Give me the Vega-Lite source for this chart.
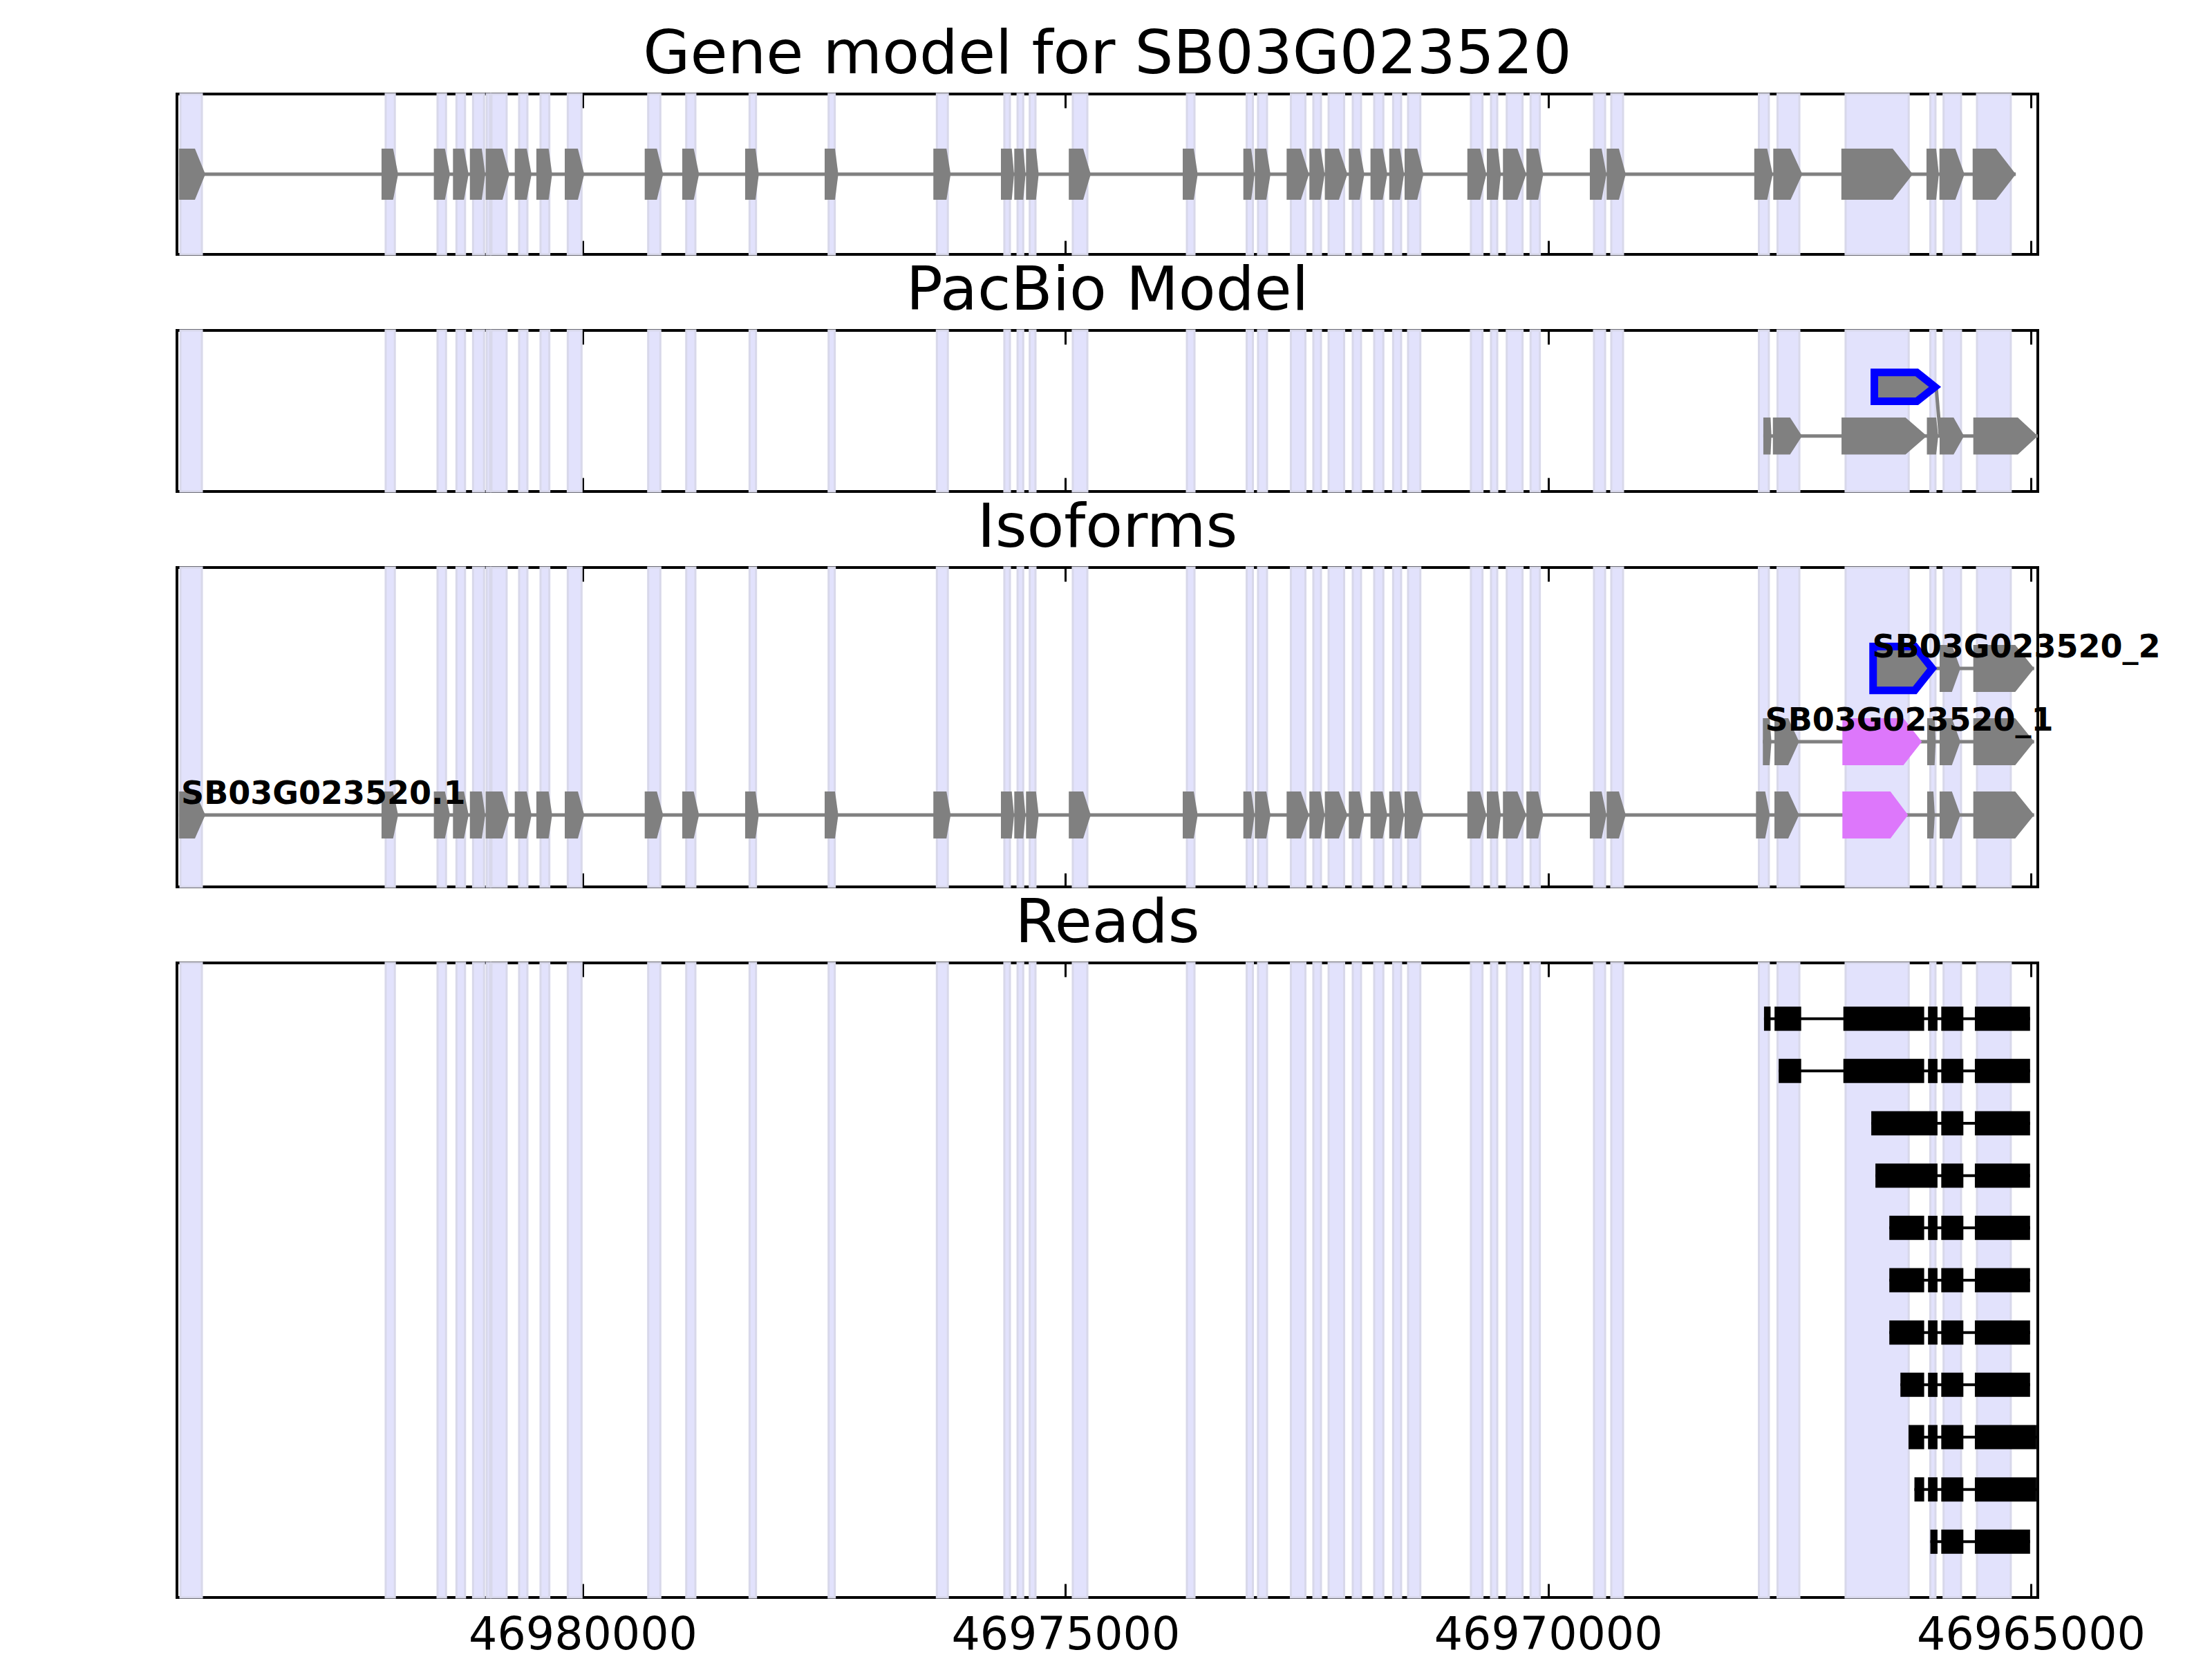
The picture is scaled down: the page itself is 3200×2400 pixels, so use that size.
{
"$schema": "https://vega.github.io/schema/vega-lite/v6.json",
"background": "white",
"padding": {"left": 254, "top": 33, "right": 0, "bottom": 0},
"spacing": 110,
"bounds": "flush",
"config": {
  "font": "DejaVu Sans",
  "view": {"stroke": "black", "strokeWidth": 4},
  "title": {"fontSize": 88, "fontWeight": "normal", "color": "black", "baseline": "alphabetic", "offset": 11, "frame": "group", "anchor": "middle"},
  "axis": {"domain": false, "grid": false, "tickSize": -20, "tickWidth": 3, "tickColor": "black", "labels": false, "title": null, "zindex": 1}
},
"datasets": {
  "shape": [
    {"k":"s","a0":-0.32,"b0":0.32,"a1":0.68,"b1":1.32,"a2":1.68,"b2":2.32,"c2":1.7,"d2":2.3,"p0":-0.376,"q0":0.376,"p1":0.706,"q1":1.294},
    {"k":"t","a0":-0.32,"b0":0.32,"a1":0.68,"b1":1.32,"a2":1.68,"b2":2.32,"c2":1.7,"d2":2.3,"p0":-0.376,"q0":0.376,"p1":0.706,"q1":1.294},
    {"k":"e","a0":0,"b0":0,"a1":1,"b1":1,"a2":2,"b2":2,"c2":2,"d2":2,"p0":0,"q0":0,"p1":1,"q1":1}
  ],
  "ex": [
    {"tr":"gm","n":1,"s":46984182,"t":46984017,"e":46983909,"f":"exon"},
    {"tr":"gm","n":2,"s":46982084,"t":46981964,"e":46981912,"f":"exon"},
    {"tr":"gm","n":3,"s":46981542,"t":46981427,"e":46981375,"f":"exon"},
    {"tr":"gm","n":4,"s":46981344,"t":46981230,"e":46981182,"f":"exon"},
    {"tr":"gm","n":5,"s":46981169,"t":46981045,"e":46981010,"f":"exon"},
    {"tr":"gm","n":6,"s":46981005,"t":46980831,"e":46980759,"f":"exon"},
    {"tr":"gm","n":7,"s":46980704,"t":46980580,"e":46980530,"f":"exon"},
    {"tr":"gm","n":8,"s":46980480,"t":46980353,"e":46980317,"f":"exon"},
    {"tr":"gm","n":9,"s":46980186,"t":46980050,"e":46979984,"f":"exon"},
    {"tr":"gm","n":10,"s":46979358,"t":46979232,"e":46979167,"f":"exon"},
    {"tr":"gm","n":11,"s":46978969,"t":46978850,"e":46978795,"f":"exon"},
    {"tr":"gm","n":12,"s":46978318,"t":46978210,"e":46978176,"f":"exon"},
    {"tr":"gm","n":13,"s":46977494,"t":46977387,"e":46977353,"f":"exon"},
    {"tr":"gm","n":14,"s":46976368,"t":46976232,"e":46976189,"f":"exon"},
    {"tr":"gm","n":15,"s":46975668,"t":46975556,"e":46975532,"f":"exon"},
    {"tr":"gm","n":16,"s":46975530,"t":46975437,"e":46975413,"f":"exon"},
    {"tr":"gm","n":17,"s":46975408,"t":46975305,"e":46975277,"f":"exon"},
    {"tr":"gm","n":18,"s":46974965,"t":46974816,"e":46974738,"f":"exon"},
    {"tr":"gm","n":19,"s":46973785,"t":46973671,"e":46973630,"f":"exon"},
    {"tr":"gm","n":20,"s":46973157,"t":46973076,"e":46973041,"f":"exon"},
    {"tr":"gm","n":21,"s":46973038,"t":46972919,"e":46972876,"f":"exon"},
    {"tr":"gm","n":22,"s":46972709,"t":46972561,"e":46972477,"f":"exon"},
    {"tr":"gm","n":23,"s":46972473,"t":46972358,"e":46972315,"f":"exon"},
    {"tr":"gm","n":24,"s":46972313,"t":46972167,"e":46972079,"f":"exon"},
    {"tr":"gm","n":25,"s":46972065,"t":46971952,"e":46971904,"f":"exon"},
    {"tr":"gm","n":26,"s":46971840,"t":46971714,"e":46971666,"f":"exon"},
    {"tr":"gm","n":27,"s":46971646,"t":46971535,"e":46971492,"f":"exon"},
    {"tr":"gm","n":28,"s":46971487,"t":46971356,"e":46971291,"f":"exon"},
    {"tr":"gm","n":29,"s":46970837,"t":46970704,"e":46970640,"f":"exon"},
    {"tr":"gm","n":30,"s":46970635,"t":46970520,"e":46970490,"f":"exon"},
    {"tr":"gm","n":31,"s":46970468,"t":46970318,"e":46970227,"f":"exon"},
    {"tr":"gm","n":32,"s":46970225,"t":46970103,"e":46970050,"f":"exon"},
    {"tr":"gm","n":33,"s":46969568,"t":46969446,"e":46969396,"f":"exon"},
    {"tr":"gm","n":34,"s":46969394,"t":46969267,"e":46969196,"f":"exon"},
    {"tr":"gm","n":35,"s":46967865,"t":46967731,"e":46967674,"f":"exon"},
    {"tr":"gm","n":36,"s":46967668,"t":46967489,"e":46967367,"f":"exon"},
    {"tr":"gm","n":37,"s":46966963,"t":46966431,"e":46966223,"f":"exon"},
    {"tr":"gm","n":38,"s":46966081,"t":46965981,"e":46965953,"f":"exon"},
    {"tr":"gm","n":39,"s":46965947,"t":46965782,"e":46965688,"f":"exon"},
    {"tr":"gm","n":40,"s":46965603,"t":46965361,"e":46965156,"f":"exon"},
    {"tr":"iso1","n":35,"s":46967847,"t":46967752,"e":46967704,"f":"exon"},
    {"tr":"iso1","n":36,"s":46967656,"t":46967513,"e":46967401,"f":"exon"},
    {"tr":"iso1","n":37,"s":46966952,"t":46966455,"e":46966272,"f":"alt"},
    {"tr":"iso1","n":38,"s":46966074,"t":46966009,"e":46965995,"f":"exon"},
    {"tr":"iso1","n":39,"s":46965945,"t":46965818,"e":46965730,"f":"exon"},
    {"tr":"iso1","n":40,"s":46965596,"t":46965162,"e":46964966,"f":"exon"},
    {"tr":"i_1","n":1,"s":46967776,"t":46967706,"e":46967687,"f":"exon"},
    {"tr":"i_1","n":2,"s":46967656,"t":46967513,"e":46967401,"f":"exon"},
    {"tr":"i_1","n":3,"s":46966952,"t":46966320,"e":46966129,"f":"alt"},
    {"tr":"i_1","n":4,"s":46966074,"t":46965997,"e":46965986,"f":"exon"},
    {"tr":"i_1","n":5,"s":46965945,"t":46965818,"e":46965730,"f":"exon"},
    {"tr":"i_1","n":6,"s":46965596,"t":46965162,"e":46964966,"f":"exon"},
    {"tr":"i_2","n":1,"s":46966634,"t":46966203,"e":46966022,"f":"novel"},
    {"tr":"i_2","n":2,"s":46965945,"t":46965818,"e":46965730,"f":"exon"},
    {"tr":"i_2","n":3,"s":46965596,"t":46965162,"e":46964966,"f":"exon"},
    {"tr":"pb","n":1,"s":46967771,"t":46967696,"e":46967687,"f":"exon"},
    {"tr":"pb","n":2,"s":46967672,"t":46967494,"e":46967370,"f":"exon"},
    {"tr":"pb","n":3,"s":46966961,"t":46966298,"e":46966077,"f":"exon"},
    {"tr":"pb","n":4,"s":46966077,"t":46965981,"e":46965959,"f":"exon"},
    {"tr":"pb","n":5,"s":46965945,"t":46965800,"e":46965692,"f":"exon"},
    {"tr":"pb","n":6,"s":46965596,"t":46965135,"e":46964928,"f":"exon"},
    {"tr":"pbn","n":1,"s":46966621,"t":46966181,"e":46965993,"f":"novel"}
  ],
  "introns": [
    {"tr":"gm","a":46984182,"b":46965156,"y":0},
    {"tr":"iso1","a":46984182,"b":46964966,"y":0},
    {"tr":"i_1","a":46967776,"b":46964966,"y":1},
    {"tr":"i_2","a":46966022,"b":46964966,"y":2},
    {"tr":"pb","a":46967771,"b":46964928,"y":0}
  ],
  "links": [
    {"a":46965981,"b":46965938,"y":1,"y2":0}
  ],
  "labels": [
    {"lab":"SB03G023520.1","x":46984160,"y":0},
    {"lab":"SB03G023520_1","x":46967752,"y":1},
    {"lab":"SB03G023520_2","x":46966642,"y":2}
  ],
  "bands": [
    {"s":46984167,"e":46983945},{"s":46982041,"e":46981946},{"s":46981504,"e":46981416},
    {"s":46981308,"e":46981219},{"s":46981136,"e":46981022},{"s":46980995,"e":46980960},
    {"s":46980945,"e":46980788},{"s":46980659,"e":46980573},{"s":46980437,"e":46980346},
    {"s":46980155,"e":46980012},{"s":46979322,"e":46979196},{"s":46978928,"e":46978833},
    {"s":46978272,"e":46978205},{"s":46977453,"e":46977389},{"s":46976332,"e":46976218},
    {"s":46975633,"e":46975575},{"s":46975496,"e":46975437},{"s":46975370,"e":46975310},
    {"s":46974924,"e":46974773},{"s":46973742,"e":46973663},{"s":46973123,"e":46973058},
    {"s":46973005,"e":46972912},{"s":46972665,"e":46972514},{"s":46972432,"e":46972353},
    {"s":46972274,"e":46972113},{"s":46972024,"e":46971938},{"s":46971802,"e":46971707},
    {"s":46971606,"e":46971523},{"s":46971451,"e":46971324},{"s":46970800,"e":46970680},
    {"s":46970592,"e":46970527},{"s":46970429,"e":46970265},{"s":46970182,"e":46970086},
    {"s":46969525,"e":46969410},{"s":46969346,"e":46969224},{"s":46967817,"e":46967714},
    {"s":46967624,"e":46967398},{"s":46966919,"e":46966265},{"s":46966042,"e":46965988},
    {"s":46965904,"e":46965723},{"s":46965558,"e":46965208}
  ],
  "reads": [
    {"r":1,"s":46967764,"e":46967696},{"r":1,"s":46967655,"e":46967379},{"r":1,"s":46966942,"e":46966105},{"r":1,"s":46966065,"e":46965967},{"r":1,"s":46965928,"e":46965699},{"r":1,"s":46965580,"e":46965008},
    {"r":2,"s":46967612,"e":46967379},{"r":2,"s":46966942,"e":46966105},{"r":2,"s":46966065,"e":46965967},{"r":2,"s":46965928,"e":46965699},{"r":2,"s":46965580,"e":46965008},
    {"r":3,"s":46966653,"e":46965967},{"r":3,"s":46965928,"e":46965699},{"r":3,"s":46965580,"e":46965008},
    {"r":4,"s":46966610,"e":46965967},{"r":4,"s":46965928,"e":46965699},{"r":4,"s":46965580,"e":46965008},
    {"r":5,"s":46966466,"e":46966105},{"r":5,"s":46966065,"e":46965967},{"r":5,"s":46965928,"e":46965699},{"r":5,"s":46965580,"e":46965008},
    {"r":6,"s":46966466,"e":46966105},{"r":6,"s":46966065,"e":46965967},{"r":6,"s":46965928,"e":46965699},{"r":6,"s":46965580,"e":46965008},
    {"r":7,"s":46966466,"e":46966105},{"r":7,"s":46966065,"e":46965967},{"r":7,"s":46965928,"e":46965699},{"r":7,"s":46965580,"e":46965008},
    {"r":8,"s":46966351,"e":46966105},{"r":8,"s":46966065,"e":46965967},{"r":8,"s":46965928,"e":46965699},{"r":8,"s":46965580,"e":46965008},
    {"r":9,"s":46966267,"e":46966105},{"r":9,"s":46966065,"e":46965967},{"r":9,"s":46965928,"e":46965699},{"r":9,"s":46965580,"e":46964943},
    {"r":10,"s":46966206,"e":46966105},{"r":10,"s":46966065,"e":46965967},{"r":10,"s":46965928,"e":46965699},{"r":10,"s":46965580,"e":46964943},
    {"r":11,"s":46966041,"e":46965967},{"r":11,"s":46965928,"e":46965699},{"r":11,"s":46965580,"e":46965008}
  ]
},
"vconcat": [
  {
    "title": "Gene model for SB03G023520",
    "width": 2692, "height": 232,
    "resolve": {"axis": {"x": "independent"}},
    "layer": [
      {"data": {"name": "bands"}, "mark": {"type": "rect", "fill": "#e2e2fc", "stroke": "#d8d8ea", "strokeWidth": 3},
       "encoding": {"x": {"field": "s", "type": "quantitative", "scale": {"domain": [46964928, 46984203], "reverse": true, "zero": false, "nice": false}, "axis": {"orient": "bottom", "values": [46965000, 46970000, 46975000, 46980000]}}, "x2": {"field": "e"}}},
      {"data": {"name": "introns"}, "transform": [{"filter": "datum.tr == 'gm'"}], "mark": {"type": "rule", "color": "#808080", "strokeWidth": 5},
       "encoding": {"x": {"field": "a", "type": "quantitative", "scale": {"domain": [46964928, 46984203], "reverse": true, "zero": false, "nice": false}, "axis": {"orient": "top", "values": [46965000, 46970000, 46975000, 46980000]}}, "x2": {"field": "b"}, "y": {"field": "y", "type": "quantitative", "scale": {"domain": [-1, 1]}, "axis": null}}},
      {"data": {"name": "ex"}, "transform": [{"filter": "datum.tr == 'gm'"}, {"fold": ["s", "t", "e"], "as": ["k", "x"]}, {"lookup": "k", "from": {"data": {"name": "shape"}, "key": "k", "fields": ["a0", "b0"]}}],
       "mark": {"type": "area", "color": "#808080"},
       "encoding": {"x": {"field": "x", "type": "quantitative", "scale": {"domain": [46964928, 46984203], "reverse": true, "zero": false, "nice": false}, "axis": null}, "y": {"field": "a0", "type": "quantitative", "scale": {"domain": [-1, 1]}, "axis": null}, "y2": {"field": "b0"}, "detail": {"field": "n", "type": "nominal"}}}
    ]
  },
  {
    "title": "PacBio Model",
    "width": 2692, "height": 233,
    "resolve": {"axis": {"x": "independent"}},
    "layer": [
      {"data": {"name": "bands"}, "mark": {"type": "rect", "fill": "#e2e2fc", "stroke": "#d8d8ea", "strokeWidth": 3},
       "encoding": {"x": {"field": "s", "type": "quantitative", "scale": {"domain": [46964928, 46984203], "reverse": true, "zero": false, "nice": false}, "axis": {"orient": "bottom", "values": [46965000, 46970000, 46975000, 46980000]}}, "x2": {"field": "e"}}},
      {"data": {"name": "introns"}, "transform": [{"filter": "datum.tr == 'pb'"}], "mark": {"type": "rule", "color": "#808080", "strokeWidth": 5},
       "encoding": {"x": {"field": "a", "type": "quantitative", "scale": {"domain": [46964928, 46984203], "reverse": true, "zero": false, "nice": false}, "axis": {"orient": "top", "values": [46965000, 46970000, 46975000, 46980000]}}, "x2": {"field": "b"}, "y": {"field": "y", "type": "quantitative", "scale": {"domain": [-1.131, 2.151]}, "axis": null}}},
      {"data": {"name": "links"}, "mark": {"type": "rule", "color": "#808080", "strokeWidth": 5},
       "encoding": {"x": {"field": "a", "type": "quantitative", "scale": {"domain": [46964928, 46984203], "reverse": true, "zero": false, "nice": false}, "axis": null}, "x2": {"field": "b"}, "y": {"field": "y", "type": "quantitative", "scale": {"domain": [-1.131, 2.151]}, "axis": null}, "y2": {"field": "y2"}}},
      {"data": {"name": "ex"}, "transform": [{"filter": "datum.tr == 'pb'"}, {"fold": ["s", "t", "e"], "as": ["k", "x"]}, {"lookup": "k", "from": {"data": {"name": "shape"}, "key": "k", "fields": ["p0", "q0"]}}],
       "mark": {"type": "area", "color": "#808080"},
       "encoding": {"x": {"field": "x", "type": "quantitative", "scale": {"domain": [46964928, 46984203], "reverse": true, "zero": false, "nice": false}, "axis": null}, "y": {"field": "p0", "type": "quantitative", "scale": {"domain": [-1.131, 2.151]}, "axis": null}, "y2": {"field": "q0"}, "detail": {"field": "n", "type": "nominal"}}},
      {"data": {"name": "ex"}, "transform": [{"filter": "datum.tr == 'pbn'"}, {"fold": ["s", "t", "e"], "as": ["k", "x"]}, {"lookup": "k", "from": {"data": {"name": "shape"}, "key": "k", "fields": ["p1", "q1"]}}],
       "mark": {"type": "area", "fill": "#808080", "stroke": "#0000ff", "strokeWidth": 11, "strokeJoin": "miter"},
       "encoding": {"x": {"field": "x", "type": "quantitative", "scale": {"domain": [46964928, 46984203], "reverse": true, "zero": false, "nice": false}, "axis": null}, "y": {"field": "p1", "type": "quantitative", "scale": {"domain": [-1.131, 2.151]}, "axis": null}, "y2": {"field": "q1"}, "detail": {"field": "n", "type": "nominal"}}}
    ]
  },
  {
    "title": "Isoforms",
    "width": 2692, "height": 462,
    "resolve": {"axis": {"x": "independent"}},
    "layer": [
      {"data": {"name": "bands"}, "mark": {"type": "rect", "fill": "#e2e2fc", "stroke": "#d8d8ea", "strokeWidth": 3},
       "encoding": {"x": {"field": "s", "type": "quantitative", "scale": {"domain": [46964928, 46984203], "reverse": true, "zero": false, "nice": false}, "axis": {"orient": "bottom", "values": [46965000, 46970000, 46975000, 46980000]}}, "x2": {"field": "e"}}},
      {"data": {"name": "introns"}, "transform": [{"filter": "datum.tr == 'iso1' || datum.tr == 'i_1' || datum.tr == 'i_2'"}], "mark": {"type": "rule", "color": "#808080", "strokeWidth": 5},
       "encoding": {"x": {"field": "a", "type": "quantitative", "scale": {"domain": [46964928, 46984203], "reverse": true, "zero": false, "nice": false}, "axis": {"orient": "top", "values": [46965000, 46970000, 46975000, 46980000]}}, "x2": {"field": "b"}, "y": {"field": "y", "type": "quantitative", "scale": {"domain": [-0.981, 3.377]}, "axis": null}}},
      {"data": {"name": "ex"}, "transform": [{"filter": "(datum.tr == 'gm' && datum.n <= 34) || datum.tr == 'iso1'"}, {"fold": ["s", "t", "e"], "as": ["k", "x"]}, {"lookup": "k", "from": {"data": {"name": "shape"}, "key": "k", "fields": ["a0", "b0"]}}],
       "mark": {"type": "area"},
       "encoding": {"x": {"field": "x", "type": "quantitative", "scale": {"domain": [46964928, 46984203], "reverse": true, "zero": false, "nice": false}, "axis": null}, "y": {"field": "a0", "type": "quantitative", "scale": {"domain": [-0.981, 3.377]}, "axis": null}, "y2": {"field": "b0"}, "detail": {"field": "n", "type": "nominal"},
         "color": {"field": "f", "type": "nominal", "scale": {"domain": ["exon", "alt", "novel"], "range": ["#808080", "#dd77fb", "#808080"]}, "legend": null}}},
      {"data": {"name": "ex"}, "transform": [{"filter": "datum.tr == 'i_1'"}, {"fold": ["s", "t", "e"], "as": ["k", "x"]}, {"lookup": "k", "from": {"data": {"name": "shape"}, "key": "k", "fields": ["a1", "b1"]}}],
       "mark": {"type": "area"},
       "encoding": {"x": {"field": "x", "type": "quantitative", "scale": {"domain": [46964928, 46984203], "reverse": true, "zero": false, "nice": false}, "axis": null}, "y": {"field": "a1", "type": "quantitative", "scale": {"domain": [-0.981, 3.377]}, "axis": null}, "y2": {"field": "b1"}, "detail": {"field": "n", "type": "nominal"},
         "color": {"field": "f", "type": "nominal", "scale": {"domain": ["exon", "alt", "novel"], "range": ["#808080", "#dd77fb", "#808080"]}, "legend": null}}},
      {"data": {"name": "ex"}, "transform": [{"filter": "datum.tr == 'i_2' && datum.f == 'exon'"}, {"fold": ["s", "t", "e"], "as": ["k", "x"]}, {"lookup": "k", "from": {"data": {"name": "shape"}, "key": "k", "fields": ["a2", "b2"]}}],
       "mark": {"type": "area", "color": "#808080"},
       "encoding": {"x": {"field": "x", "type": "quantitative", "scale": {"domain": [46964928, 46984203], "reverse": true, "zero": false, "nice": false}, "axis": null}, "y": {"field": "a2", "type": "quantitative", "scale": {"domain": [-0.981, 3.377]}, "axis": null}, "y2": {"field": "b2"}, "detail": {"field": "n", "type": "nominal"}}},
      {"data": {"name": "ex"}, "transform": [{"filter": "datum.tr == 'i_2' && datum.f == 'novel'"}, {"fold": ["s", "t", "e"], "as": ["k", "x"]}, {"lookup": "k", "from": {"data": {"name": "shape"}, "key": "k", "fields": ["c2", "d2"]}}],
       "mark": {"type": "area", "fill": "#808080", "stroke": "#0000ff", "strokeWidth": 11, "strokeJoin": "miter"},
       "encoding": {"x": {"field": "x", "type": "quantitative", "scale": {"domain": [46964928, 46984203], "reverse": true, "zero": false, "nice": false}, "axis": null}, "y": {"field": "c2", "type": "quantitative", "scale": {"domain": [-0.981, 3.377]}, "axis": null}, "y2": {"field": "d2"}, "detail": {"field": "n", "type": "nominal"}}},
      {"data": {"name": "labels"}, "mark": {"type": "text", "align": "left", "baseline": "alphabetic", "dy": -16, "fontSize": 46, "fontWeight": "bold", "color": "black"},
       "encoding": {"x": {"field": "x", "type": "quantitative", "scale": {"domain": [46964928, 46984203], "reverse": true, "zero": false, "nice": false}, "axis": null}, "y": {"field": "y", "type": "quantitative", "scale": {"domain": [-0.981, 3.377]}, "axis": null}, "text": {"field": "lab"}}}
    ]
  },
  {
    "title": "Reads",
    "width": 2692, "height": 918,
    "resolve": {"axis": {"x": "independent"}},
    "layer": [
      {"data": {"name": "bands"}, "mark": {"type": "rect", "fill": "#e2e2fc", "stroke": "#d8d8ea", "strokeWidth": 3},
       "encoding": {"x": {"field": "s", "type": "quantitative", "scale": {"domain": [46964928, 46984203], "reverse": true, "zero": false, "nice": false}, "axis": {"orient": "bottom", "values": [46965000, 46970000, 46975000, 46980000], "labels": true, "labelFontSize": 65, "labelColor": "black", "labelPadding": 43, "labelFlush": false, "labelOverlap": false, "labelLimit": 0, "format": "d"}}, "x2": {"field": "e"}}},
      {"data": {"name": "reads"}, "transform": [{"aggregate": [{"op": "max", "field": "s", "as": "a"}, {"op": "min", "field": "e", "as": "b"}], "groupby": ["r"]}],
       "mark": {"type": "rule", "color": "black", "strokeWidth": 4},
       "encoding": {"x": {"field": "a", "type": "quantitative", "scale": {"domain": [46964928, 46984203], "reverse": true, "zero": false, "nice": false}, "axis": {"orient": "top", "values": [46965000, 46970000, 46975000, 46980000]}}, "x2": {"field": "b"}, "y": {"field": "r", "type": "quantitative", "scale": {"domain": [0, 12], "reverse": true}, "axis": null}}},
      {"data": {"name": "reads"}, "mark": {"type": "bar", "orient": "horizontal", "color": "black", "size": 35},
       "encoding": {"x": {"field": "s", "type": "quantitative", "scale": {"domain": [46964928, 46984203], "reverse": true, "zero": false, "nice": false}, "axis": null}, "x2": {"field": "e"}, "y": {"field": "r", "type": "quantitative", "scale": {"domain": [0, 12], "reverse": true}, "axis": null}}}
    ]
  }
]
}
